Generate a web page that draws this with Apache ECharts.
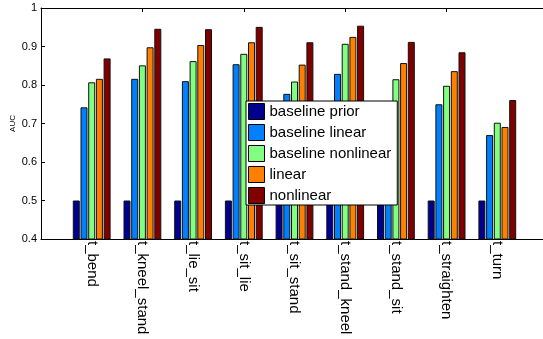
<!DOCTYPE html>
<html>
<head>
<meta charset="utf-8">
<script src="https://cdn.jsdelivr.net/npm/echarts@6/dist/echarts.min.js"></script>
<style>html,body{margin:0;padding:0;background:#fff}#c{width:543px;height:339px}</style>
</head>
<body>
<div id="c"></div>
<script>
const categories = ['t_bend','t_kneel_stand','t_lie_sit','t_sit_lie','t_sit_stand','t_stand_kneel','t_stand_sit','t_straighten','t_turn'];
const seriesNames = ['baseline prior','baseline linear','baseline nonlinear','linear','nonlinear'];
const baselinePrior = [0.5,0.5,0.5,0.5,0.5,0.5,0.5,0.5,0.5];
const baselineLinear = [0.742,0.816,0.810,0.854,0.777,0.829,0.72,0.750,0.670];
const baselineNonlinear = [0.807,0.851,0.862,0.881,0.809,0.907,0.815,0.798,0.702];
const linearVals = [0.816,0.898,0.904,0.911,0.853,0.925,0.857,0.836,0.691];
const nonlinearVals = [0.869,0.946,0.945,0.951,0.911,0.954,0.912,0.885,0.761];
const colors = ['#00008F','#0080FF','#80FF80','#FF8000','#800000'];

const allVals = [baselinePrior, baselineLinear, baselineNonlinear, linearVals, nonlinearVals];
const xData = [''].concat(categories, ['']);
const font = 'Liberation Sans, Arial, Helvetica, sans-serif';

const chart = echarts.init(document.getElementById('c'), null, {renderer:'canvas'});
chart.setOption({
  animation: false,
  backgroundColor: '#fff',
  color: colors,
  grid: {left: 41, top: 8, width: 507, height: 231, containLabel: false, outerBoundsMode: 'none'},
  legend: {
    orient: 'vertical', left: 246, top: 101,
    itemWidth: 16, itemHeight: 16, itemGap: 4,
    padding: [2, 6, 1, 2],
    borderColor: '#000', borderWidth: 1, backgroundColor: '#fff',
    icon: 'rect',
    itemStyle: {borderColor: '#000', borderWidth: 1},
    textStyle: {fontSize: 15, fontFamily: font, color: '#000'},
    data: seriesNames
  },
  xAxis: [{
    type: 'category', data: xData, boundaryGap: false, position: 'bottom',
    axisLine: {lineStyle: {color: '#000', width: 1}},
    axisTick: {show: true, inside: true, length: 4, lineStyle: {color: '#000'}},
    axisLabel: {rotate: -90, fontSize: 15, fontFamily: font, color: '#000', margin: 2, interval: 0},
    splitLine: {show: false}
  }, {
    type: 'category', data: xData, boundaryGap: false, position: 'top',
    axisLine: {show: true, lineStyle: {color: '#000', width: 1}},
    axisTick: {show: true, inside: true, length: 4, lineStyle: {color: '#000'}},
    axisLabel: {show: false},
    splitLine: {show: false}
  }],
  yAxis: [{
    type: 'value', min: 0.4, max: 1, interval: 0.1, position: 'left',
    name: 'AUC', nameLocation: 'middle', nameGap: 24, nameMoveOverlap: false,
    nameTextStyle: {fontSize: 8, fontFamily: font, color: '#000'},
    axisLine: {show: true, lineStyle: {color: '#000', width: 1}},
    axisTick: {show: true, inside: true, length: 4, lineStyle: {color: '#000'}},
    axisLabel: {fontSize: 11, fontFamily: font, color: '#000', margin: 4,
      formatter: v => String(Math.round(v * 10) / 10)},
    splitLine: {show: false}
  }, {
    type: 'value', min: 0.4, max: 1, interval: 0.1, position: 'right',
    axisLine: {show: true, lineStyle: {color: '#000', width: 1}},
    axisTick: {show: true, inside: true, length: 5, lineStyle: {color: '#000'}},
    axisLabel: {show: false},
    splitLine: {show: false}
  }],
  series: seriesNames.map((name, i) => ({
    name: name, type: 'bar',
    xAxisIndex: 0, yAxisIndex: 0,
    barWidth: 7, barGap: '10%',
    itemStyle: {color: colors[i], borderColor: '#111', borderWidth: 1},
    data: ['-'].concat(allVals[i], ['-'])
  }))
});
</script>
</body>
</html>
